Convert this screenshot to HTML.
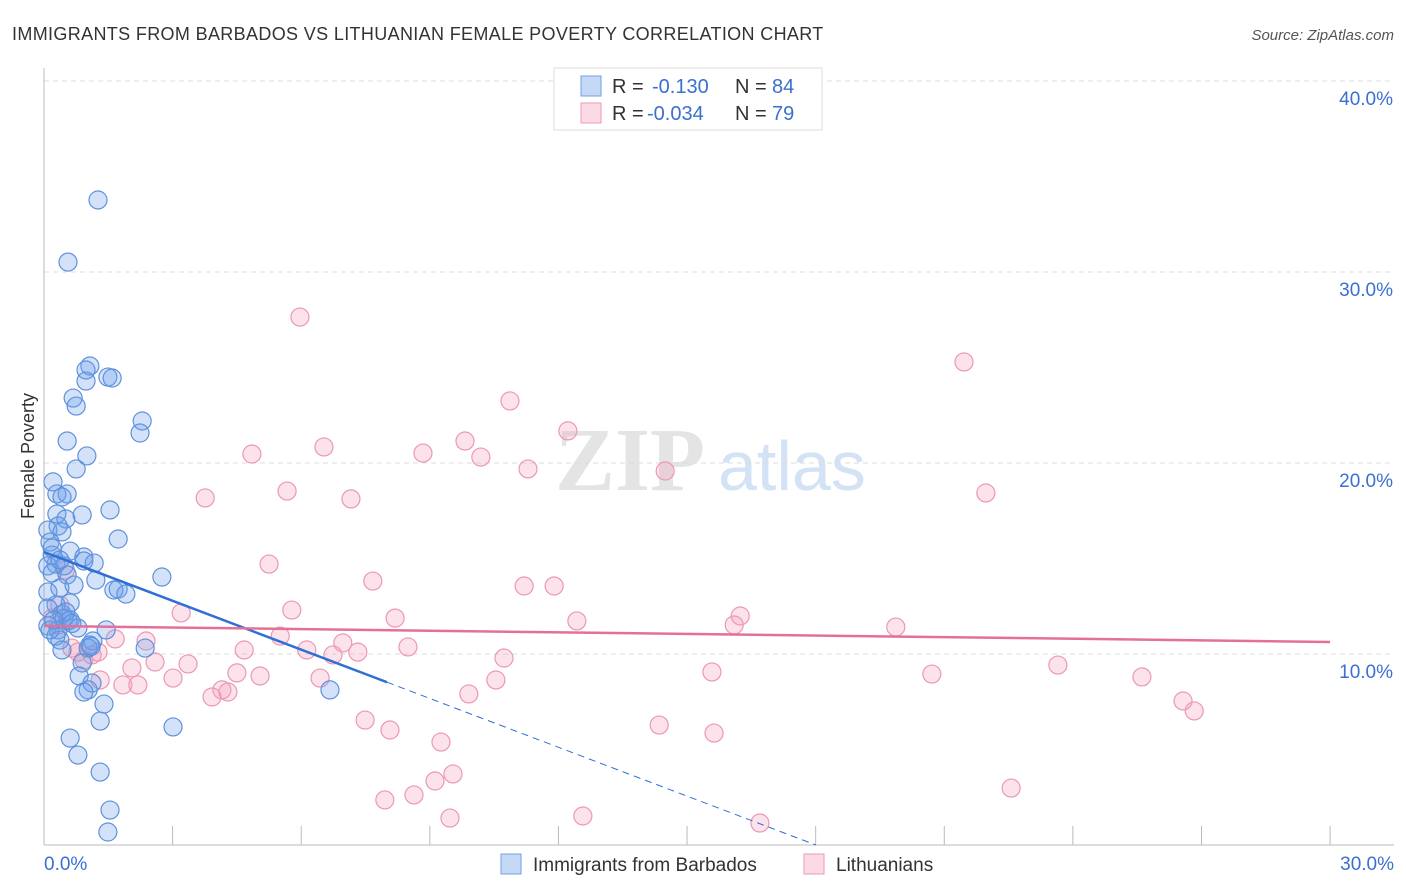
<!DOCTYPE html>
<html><head><meta charset="utf-8"><style>
body{margin:0;background:#fff;font-family:"Liberation Sans",sans-serif;}
svg{display:block}
</style></head><body>
<svg id="chart" width="1406" height="892">
<text x="12" y="40" font-size="18" fill="#333" letter-spacing="0.35">IMMIGRANTS FROM BARBADOS VS LITHUANIAN FEMALE POVERTY CORRELATION CHART</text>
<text x="1394" y="40" font-size="15" fill="#555" font-style="italic" text-anchor="end">Source: ZipAtlas.com</text>
<text x="34" y="456" font-size="18" fill="#333" text-anchor="middle" transform="rotate(-90 34 456)">Female Poverty</text>
<g><text x="555" y="490" font-size="90" fill="#e4e4e4" font-family="Liberation Serif,serif" font-weight="bold">ZIP</text><text x="718" y="490" font-size="70" fill="#d3e2f5">atlas</text></g>
<g id="grid"></g>
<g id="axes"></g>
<g id="marks"></g>
<g id="trends"></g>
<g>
<rect x="554" y="68" width="268" height="62" fill="#fff" stroke="#ddd"/>
<rect x="581" y="76" width="20" height="20" fill="rgba(110,160,235,0.4)" stroke="#6fa0e4"/>
<rect x="581" y="103" width="20" height="20" fill="rgba(245,160,190,0.4)" stroke="#ee9ab5"/>
<text y="93" font-size="20" fill="#333"><tspan x="612">R =</tspan><tspan x="652" fill="#3b6fd1">-0.130</tspan><tspan x="735">N =</tspan><tspan x="772" fill="#3b6fd1">84</tspan></text>
<text y="120" font-size="20" fill="#333"><tspan x="612">R =</tspan><tspan x="647" fill="#3b6fd1">-0.034</tspan><tspan x="735">N =</tspan><tspan x="772" fill="#3b6fd1">79</tspan></text>
</g>
<g>
<rect x="501" y="854" width="20" height="20" fill="rgba(110,160,235,0.4)" stroke="#6fa0e4"/>
<text x="533" y="871" font-size="19" fill="#333">Immigrants from Barbados</text>
<rect x="804" y="854" width="20" height="20" fill="rgba(245,160,190,0.4)" stroke="#ee9ab5"/>
<text x="836" y="871" font-size="19" fill="#333">Lithuanians</text>
</g>
</svg>
<script>
const blueX=[1.26,0.56,1.07,0.98,0.98,1.49,1.59,0.68,0.75,2.29,2.24,0.54,1.00,0.75,0.21,1.54,0.30,0.54,0.42,0.89,0.30,0.51,0.33,0.09,0.42,1.73,0.14,0.19,0.61,0.93,0.93,1.17,0.28,0.09,0.47,0.19,0.54,1.21,2.75,1.63,1.73,1.91,0.37,0.09,0.61,0.28,0.09,0.42,0.47,0.56,0.09,0.33,1.45,0.61,1.14,1.07,1.03,2.36,0.37,0.28,0.14,0.89,0.82,1.12,1.03,1.40,0.93,1.31,3.01,0.61,0.79,1.31,1.54,1.49,6.67,0.19,0.37,0.70,0.51,0.23,0.79,0.42,0.65,1.10];
const blueY=[33.77,30.52,25.08,24.87,24.29,24.50,24.45,23.40,22.98,22.20,21.57,21.15,20.37,19.69,19.01,17.54,18.38,18.38,18.22,17.28,17.33,17.07,16.70,16.49,16.39,16.02,15.86,15.18,15.39,15.08,14.87,14.76,14.71,14.61,14.61,14.24,14.14,13.87,14.03,13.35,13.40,13.14,13.46,13.25,12.67,12.57,12.41,12.09,11.88,11.73,11.47,11.26,11.26,11.78,10.68,10.47,10.31,10.31,10.73,10.94,11.26,9.53,8.85,8.48,8.12,7.38,8.01,6.49,6.18,5.60,4.71,3.82,1.83,0.68,8.12,15.55,14.92,13.61,12.20,11.78,11.36,10.21,11.60,10.40];
const pinkX=[5.97,21.46,10.87,12.22,4.85,6.53,9.82,8.84,10.19,11.29,14.49,3.76,5.67,7.16,21.97,5.25,7.67,11.20,11.90,3.20,5.78,8.19,12.43,16.24,16.10,19.87,1.66,2.38,5.51,6.97,6.13,7.32,8.49,4.67,0.19,0.37,0.65,0.79,0.93,1.12,2.05,2.59,3.36,10.73,4.50,5.04,3.01,1.84,2.19,1.31,6.74,6.44,10.54,9.91,4.15,3.92,4.29,15.58,20.71,23.65,25.61,26.57,26.83,7.49,8.07,9.26,14.35,15.63,9.54,9.12,8.63,7.95,22.56,9.47,12.57,16.70,1.26,0.33,0.50];
const pinkY=[27.64,25.29,23.25,21.68,20.47,20.84,21.15,20.52,20.31,19.69,19.58,18.17,18.53,18.12,18.43,14.71,13.82,13.56,13.56,12.15,12.30,11.88,11.73,11.99,11.52,11.41,10.79,10.68,10.94,10.58,10.21,10.10,10.37,10.21,11.88,12.57,10.31,10.10,9.69,9.95,9.27,9.58,9.48,9.79,9.01,8.85,8.74,8.38,8.38,8.64,9.95,8.74,8.64,7.91,8.12,7.75,8.01,9.06,8.95,9.42,8.80,7.54,7.02,6.54,6.02,5.39,6.28,5.86,3.72,3.35,2.62,2.36,2.98,1.41,1.52,1.15,10.10,11.52,14.40];
const yTicks=[10,20,30,40];
const yTickLabels=["10.0%","20.0%","30.0%","40.0%"];
const xTicks=[0,3,6,9,12,15,18,21,24,27,30];
const blueTrend=[15.34,-0.852];
const pinkTrend=[11.47,-0.028];
const NS="http://www.w3.org/2000/svg";
const X=v=>44+v*42.87, Y=v=>845-v*19.1;
function mk(tag,attrs,parent){const e=document.createElementNS(NS,tag);for(const k in attrs)e.setAttribute(k,attrs[k]);parent.appendChild(e);return e;}
const grid=document.getElementById('grid'),axes=document.getElementById('axes'),marks=document.getElementById('marks'),trends=document.getElementById('trends');
yTicks.forEach((t,i)=>{
 const l=mk('line',{x1:44,x2:1394,y1:Y(t),y2:Y(t),stroke:'#ddd','stroke-dasharray':'5,4'},grid);
 
 
 const tx=mk('text',{x:1393,y:Y(t)+24,'font-size':19,fill:'#3b6fd1','text-anchor':'end'},axes);
 tx.textContent=yTickLabels[i];
 
 
});
const ya=mk('line',{x1:44,x2:44,y1:68,y2:845,stroke:'#bbb'},axes);


const xa=mk('line',{x1:44,x2:1394,y1:845,y2:845,stroke:'#bbb'},axes);


xTicks.forEach(t=>{
 const l=mk('line',{x1:X(t),x2:X(t),y1:826,y2:845,stroke:'#bbb'},axes);
 
 
});
const x0=mk('text',{x:44,y:870,'font-size':19,fill:'#3b6fd1'},axes);x0.textContent='0.0%';


const x1=mk('text',{x:1394,y:870,'font-size':19,fill:'#3b6fd1','text-anchor':'end'},axes);x1.textContent='30.0%';


pinkX.forEach((v,i)=>{
 const c=mk('circle',{cx:X(v),cy:Y(pinkY[i]),r:9,fill:'rgba(245,160,190,0.3)',stroke:'#eb98b3','stroke-width':1.2},marks);
 
 
});
blueX.forEach((v,i)=>{
 const c=mk('circle',{cx:X(v),cy:Y(blueY[i]),r:9,fill:'rgba(110,160,235,0.3)',stroke:'#5e92dc','stroke-width':1.2},marks);
 
 
});
const bt=v=>blueTrend[0]+blueTrend[1]*v, pt=v=>pinkTrend[0]+pinkTrend[1]*v;
const bx0=-blueTrend[0]/blueTrend[1];
const b1=mk('line',{x1:X(0),y1:Y(bt(0)),x2:X(8),y2:Y(bt(8)),stroke:'#2f6fd6','stroke-width':2.5},trends);


const b2=mk('line',{x1:X(8),y1:Y(bt(8)),x2:X(bx0),y2:Y(0),stroke:'#2f6fd6','stroke-width':1,'stroke-dasharray':'7,5'},trends);


const p1=mk('line',{x1:X(0),y1:Y(pt(0)),x2:X(30),y2:Y(pt(30)),stroke:'#e4709a','stroke-width':2.5},trends);


</script>
</body></html>
